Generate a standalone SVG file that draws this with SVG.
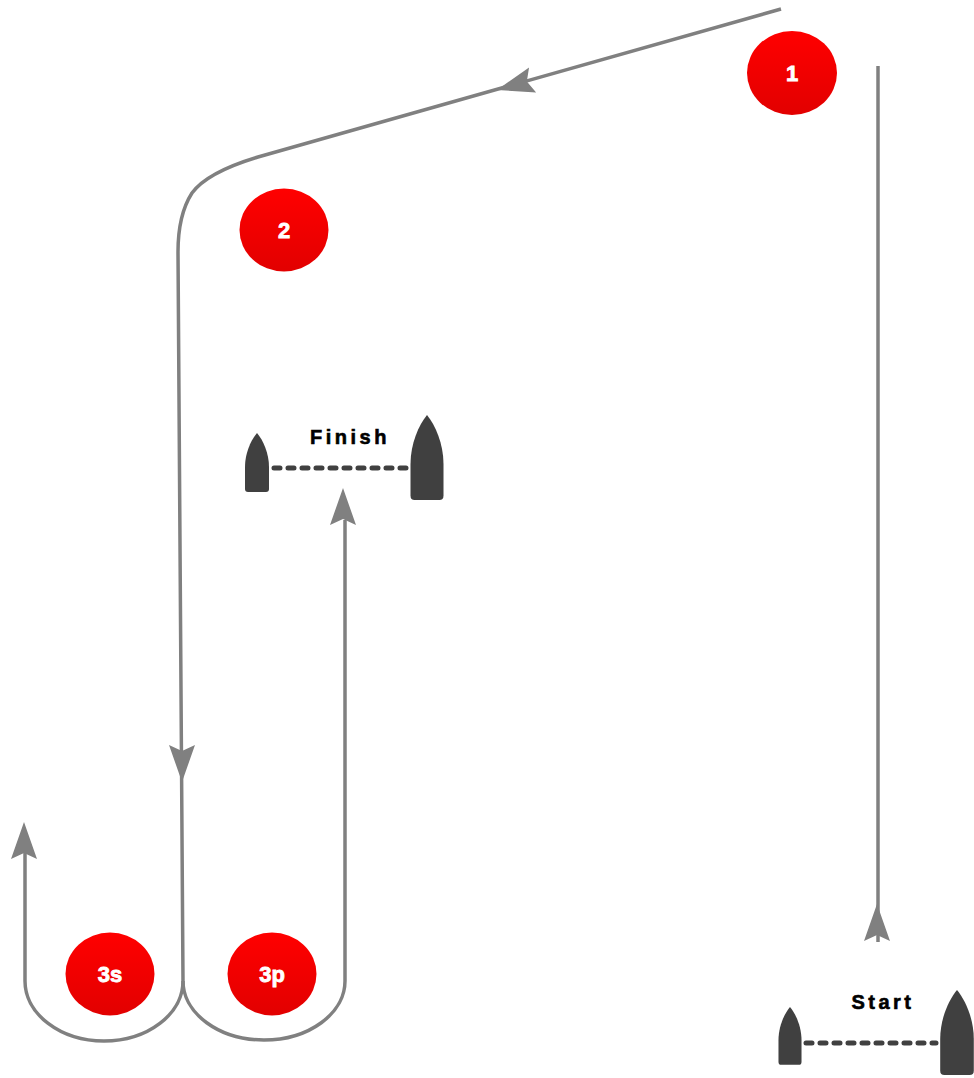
<svg xmlns="http://www.w3.org/2000/svg" xmlns:xlink="http://www.w3.org/1999/xlink" width="974" height="1078" viewBox="0 0 974 1078">
<defs>
<linearGradient id="markFill" x1="0" y1="0" x2="0" y2="1">
<stop offset="0" stop-color="#ff0000"/>
<stop offset="1" stop-color="#e20000"/>
</linearGradient>
<path id="arrowhead" d="M0,0 L13,37 L0,31 L-13,37 Z" fill="#808080"/>
<path id="boat" d="M0,0 C6,7 12,20 12,34 L12,56 Q12,59 9,59 L-9,59 Q-12,59 -12,56 L-12,34 C-12,20 -6,7 0,0 Z" fill="#404040"/>
</defs>
<style>
.course{fill:none;stroke:#808080;stroke-width:3.5;stroke-linejoin:round}
.mark{fill:url(#markFill)}
.markLabel{font-family:"Liberation Sans",Arial,sans-serif;font-weight:bold;font-size:22px;fill:#ffffff;stroke:#ffffff;stroke-width:0.8;text-anchor:middle}
.lineLabel{font-family:"Liberation Sans",Arial,sans-serif;font-weight:bold;font-size:20px;letter-spacing:3.5px;fill:#000000;stroke:#000000;stroke-width:0.6;text-anchor:middle}
.gate{fill:none;stroke:#404040;stroke-width:5;stroke-dasharray:6 8;stroke-linecap:round}
</style>
<rect width="974" height="1078" fill="#ffffff"/>
<g id="connectors">
<path class="course" d="M878,942 L878,66"/>
<path class="course" d="M781,9 L258,157 C228,166 203,178 192,193 C183,207 178,228 178,252 L183,981"/>
<path class="course" d="M183,981 A79,60 0 0 1 25,981 L25,853"/>
<path class="course" d="M183,981 A81,59 0 0 0 345,981 L345,520"/>
<use xlink:href="#arrowhead" transform="translate(877,904)"/>
<use xlink:href="#arrowhead" transform="translate(497,90) rotate(-105.8)"/>
<use xlink:href="#arrowhead" transform="translate(182,782) rotate(180)"/>
<use xlink:href="#arrowhead" transform="translate(24,822)"/>
<use xlink:href="#arrowhead" transform="translate(343,488)"/>
</g>
<g id="mark1">
<ellipse class="mark" cx="792" cy="73" rx="45" ry="42"/>
<text class="markLabel" x="792" y="81">1</text>
</g>
<g id="mark2">
<ellipse class="mark" cx="284" cy="230" rx="44.5" ry="41.5"/>
<text class="markLabel" x="284" y="238">2</text>
</g>
<g id="mark3s">
<ellipse class="mark" cx="110" cy="974" rx="44.5" ry="41.5"/>
<text class="markLabel" x="110" y="982">3s</text>
</g>
<g id="mark3p">
<ellipse class="mark" cx="272" cy="974" rx="44.5" ry="41.5"/>
<text class="markLabel" x="272" y="982">3p</text>
</g>
<g id="finish">
<line class="gate" x1="274" y1="468" x2="406" y2="468"/>
<use xlink:href="#boat" transform="translate(257,433)"/>
<use xlink:href="#boat" transform="translate(427,415) scale(1.375,1.44)"/>
<text class="lineLabel" x="350" y="444">Finish</text>
</g>
<g id="start">
<line class="gate" x1="806" y1="1043" x2="936" y2="1043"/>
<use xlink:href="#boat" transform="translate(790,1007) scale(0.96,0.98)"/>
<use xlink:href="#boat" transform="translate(957,990) scale(1.4,1.44)"/>
<text class="lineLabel" x="883" y="1009">Start</text>
</g>
</svg>
